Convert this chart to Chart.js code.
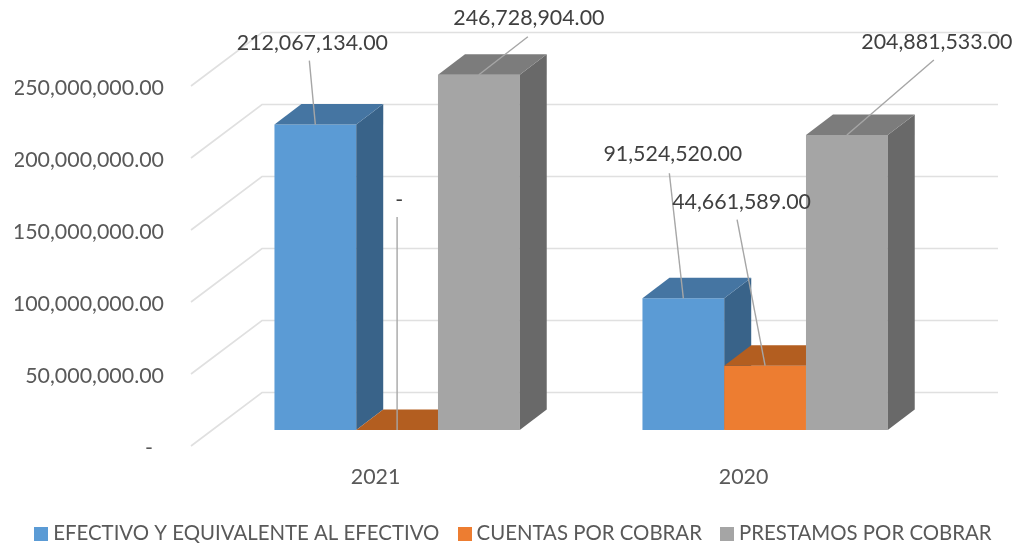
<!DOCTYPE html>
<html>
<head>
<meta charset="utf-8">
<style>html,body{margin:0;padding:0;background:#fff}#wrap{width:1016px;height:543px}</style>
<script src="https://cdn.jsdelivr.net/npm/chart.js@4"></script>
</head>
<body>
<div id="wrap"><canvas id="c" width="1016" height="543"></canvas></div>
<script>
const categories = ['2021', '2020'];
const seriesNames = ['EFECTIVO Y EQUIVALENTE AL EFECTIVO', 'CUENTAS POR COBRAR', 'PRESTAMOS POR COBRAR'];
const efectivo = [212067134, 91524520];
const cuentas = [0, 44661589];
const prestamos = [246728904, 204881533];
const tickStep = 50000000;
const lastTick = 250000000;

const FONT = 'Lato, "Open Sans", sans-serif';
const frontColors = ['#5b9bd5', '#ed7d31', '#a5a5a5'];
const topColors = ['#4575a2', '#b35e20', '#7c7c7c'];
const sideColors = ['#396389', '#8f4b1a', '#696969'];
const BAR_DEPTH = { x: 27, y: 20.5 };
const WALL = { frontLeft: 22.1, back: 71, rise: 53.5, right: 48.9, lift: 2 };
// data-label placement relative to the bar's top centre: [series][category] = [labelDx, labelDy, lineDx, lineDy]
const labelOffsets = [
  [[-3, -82, -6, -64], [-10.5, -144, -14, -125]],
  [[2, -230, 0, -213], [-23.5, -164, -28, -146]],
  [[50, -57, 49, -38], [90, -93, 87, -75]]
];

const fmt = v => v === 0 ? '-' : v.toLocaleString('en-US', { minimumFractionDigits: 2, maximumFractionDigits: 2 });
// The zero tick keeps the accounting format's blank space after the dash.
const fmtTick = v => v === 0 ? '-\u00a0\u00a0' : fmt(v);

function swatch(color) {
  const s = document.createElement('canvas');
  s.width = 14; s.height = 14;
  const g = s.getContext('2d');
  g.fillStyle = color; g.fillRect(0, 0, 14, 14);
  return s;
}

const threeD = {
  id: 'threeD',
  beforeDatasetsDraw(chart) {
    const { ctx, scales } = chart;
    const x0 = scales.x.left - WALL.frontLeft;
    const xEnd = scales.x.right + WALL.right;
    ctx.save();
    ctx.strokeStyle = '#e0e0e0';
    ctx.lineWidth = 1.7;
    scales.y.ticks.forEach(t => {
      const y = scales.y.getPixelForValue(t.value) - WALL.lift;
      ctx.beginPath();
      ctx.moveTo(x0, y);
      ctx.lineTo(x0 + WALL.back, y - WALL.rise);
      ctx.lineTo(xEnd, y - WALL.rise);
      ctx.stroke();
    });
    ctx.restore();
  },
  // The series are painted left to right below, so the library's own back-to-front pass is skipped.
  beforeDatasetDraw() { return false; },
  afterDatasetsDraw(chart) {
    const { ctx } = chart;
    const d = BAR_DEPTH;
    chart.data.datasets.forEach((ds, i) => {
      const meta = chart.getDatasetMeta(i);
      meta.controller.draw();
      ctx.save();
      meta.data.forEach(bar => {
        const l = bar.x - bar.width / 2, r = bar.x + bar.width / 2, t = bar.y, b = bar.base;
        if (b - t > 0.5) {
          ctx.fillStyle = sideColors[i];
          ctx.beginPath();
          ctx.moveTo(r, t); ctx.lineTo(r + d.x, t - d.y); ctx.lineTo(r + d.x, b - d.y); ctx.lineTo(r, b);
          ctx.closePath(); ctx.fill();
        }
        ctx.fillStyle = topColors[i];
        ctx.beginPath();
        ctx.moveTo(l, t); ctx.lineTo(r, t); ctx.lineTo(r + d.x, t - d.y); ctx.lineTo(l + d.x, t - d.y);
        ctx.closePath(); ctx.fill();
      });
      ctx.restore();
    });
    ctx.save();
    ctx.strokeStyle = '#a6a6a6';
    ctx.lineWidth = 1.4;
    chart.data.datasets.forEach((ds, i) => {
      chart.getDatasetMeta(i).data.forEach((bar, j) => {
        const o = labelOffsets[i][j];
        ctx.beginPath();
        ctx.moveTo(bar.x + o[2], bar.y + o[3]);
        ctx.lineTo(bar.x, bar.y);
        ctx.stroke();
      });
    });
    ctx.fillStyle = '#404040';
    ctx.font = '21.4px ' + FONT;
    ctx.textAlign = 'center';
    ctx.textBaseline = 'middle';
    chart.data.datasets.forEach((ds, i) => {
      chart.getDatasetMeta(i).data.forEach((bar, j) => {
        const o = labelOffsets[i][j];
        ctx.fillText(fmt(ds.data[j]), bar.x + o[0], bar.y + o[1]);
      });
    });
    ctx.restore();
  }
};

new Chart(document.getElementById('c'), {
  type: 'bar',
  plugins: [threeD],
  data: {
    labels: categories,
    datasets: [
      { label: seriesNames[0], data: efectivo, backgroundColor: frontColors[0], yAxisID: 'yBars' },
      { label: seriesNames[1], data: cuentas, backgroundColor: frontColors[1], yAxisID: 'yBars' },
      { label: seriesNames[2], data: prestamos, backgroundColor: frontColors[2], yAxisID: 'yBars' }
    ]
  },
  options: {
    responsive: false,
    animation: false,
    layout: { padding: { top: 16, left: 15, right: 0, bottom: -11 } },
    datasets: { bar: { categoryPercentage: 0.6665, barPercentage: 1, borderWidth: 0 } },
    plugins: {
      tooltip: { enabled: false },
      legend: {
        position: 'bottom',
        labels: {
          usePointStyle: true,
          pointStyleWidth: 3.6,
          padding: 23.3,
          color: '#595959',
          font: { family: FONT, size: 20.4 },
          generateLabels(chart) {
            const items = Chart.defaults.plugins.legend.labels.generateLabels(chart);
            items.forEach(it => { it.pointStyle = swatch(it.fillStyle); });
            return items;
          }
        }
      }
    },
    scales: {
      x: {
        grid: { display: false, drawTicks: false },
        border: { display: false },
        ticks: { padding: 16, labelOffset: -21.5, color: '#595959', font: { family: FONT, size: 21.4 } },
        afterFit(s) { s.height = 106 - s.chart.legend.height; }
      },
      y: {
        min: 0, max: 300000000,
        grid: { display: false, drawTicks: true, tickLength: 49.1 },
        border: { display: false },
        ticks: {
          stepSize: tickStep, padding: 0, color: '#595959',
          font: { family: FONT, size: 21.4 }, callback: fmtTick
        },
        afterBuildTicks(s) { s.ticks = s.ticks.filter(t => t.value <= lastTick); },
        afterFit(s) { s.width = 198.1; }
      },
      yBars: {
        position: 'right',
        min: -12500000, max: 287500000,
        grid: { display: false, drawTicks: false },
        border: { display: false },
        ticks: { display: false },
        afterFit(s) { s.width = 66.9; }
      }
    }
  }
});
</script>
</body>
</html>
